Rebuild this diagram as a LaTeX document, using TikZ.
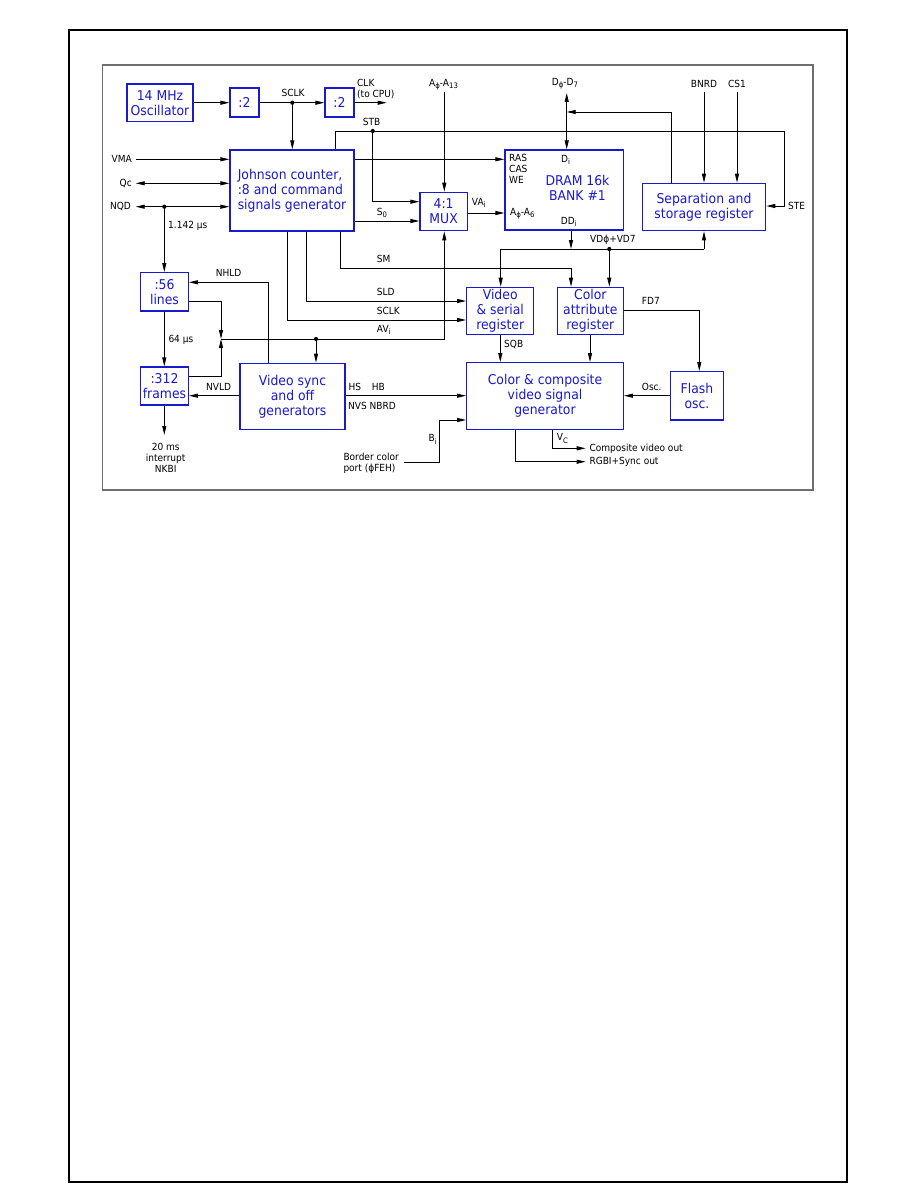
\documentclass[tikz,border=0pt]{standalone}
\usepackage{fontspec}
\setmainfont{DejaVu Sans}[FakeStretch=0.92]
\usetikzlibrary{arrows.meta}
\definecolor{boxblue}{RGB}{25,25,205}
\definecolor{framegray}{RGB}{110,110,110}
\newcommand\lowsub[1]{\raisebox{-0.45ex}{\fontsize{7.5}{7.5}\selectfont #1}}
\begin{document}
\begin{tikzpicture}[x=1pt,y=-1pt,
  blk/.style={draw=boxblue, text=boxblue, line width=1.2pt, align=center, inner sep=0pt, font=\fontsize{13.5}{15}\selectfont},
  lbl/.style={inner sep=0pt, anchor=west, font=\fontsize{9.8}{11}\selectfont},
  clbl/.style={inner sep=0pt, font=\fontsize{9.8}{11}\selectfont},
  wire/.style={line width=0.9pt},
  arr/.style={wire, -{Triangle[length=9pt,width=4pt]}},
  darr/.style={wire, {Triangle[length=9pt,width=4pt]}-{Triangle[length=9pt,width=4pt]}},
  jdot/.style={circle, fill, inner sep=0pt, minimum size=4.2pt}]
\useasboundingbox (0,0) rectangle (918,1188);
% frames
\draw[line width=2pt] (68.5,29.7) rectangle (847,1181.5);
\draw[framegray, line width=1.5pt] (102.7,65) rectangle (813,490);

% boxes
\node[blk, minimum width=66pt, minimum height=37.5pt] (osc) at (160,102.75) {14 MHz\\Oscillator};
\node[blk, minimum width=29pt, minimum height=29pt] (div1) at (244.5,102.5) {:2};
\node[blk, minimum width=29pt, minimum height=29pt] (div2) at (339.5,102.5) {:2};
\node[blk, align=left, minimum width=124pt, minimum height=81pt] (john) at (292,190.5) {Johnson counter,\\:8 and command\\signals generator};
\node[blk, minimum width=47.3pt, minimum height=38.4pt] (mux) at (443.65,211.5) {4:1\\MUX};
\node[blk, minimum width=118.3pt, minimum height=80pt] (dram) at (564.15,190) {};
\node[text=boxblue, align=center, inner sep=0pt, font=\fontsize{13.5}{15}\selectfont] (dramtxt) at (577.5,188) {DRAM 16k\\BANK \#1};
\node[blk, minimum width=123.4pt, minimum height=47.4pt] (sep) at (704,207) {Separation and\\storage register};
\node[blk, minimum width=47.6pt, minimum height=38.3pt] (lines) at (164.5,291.85) {:56\\lines};
\node[blk, minimum width=47.6pt, minimum height=38pt] (frames) at (164.5,386) {:312\\frames};
\node[blk, minimum width=105pt, minimum height=66pt] (vsync) at (292.5,396.3) {Video sync\\and off\\generators};
\node[blk, minimum width=67pt, minimum height=47pt] (vidreg) at (500.2,310.8) {Video\\\& serial\\register};
\node[blk, minimum width=66pt, minimum height=47pt] (colattr) at (590.3,310.8) {Color\\attribute\\register};
\node[blk, minimum width=156.6pt, minimum height=66.6pt] (colcomp) at (545,396) {Color \& composite\\video signal\\generator};
\node[blk, minimum width=52.6pt, minimum height=48.3pt] (flash) at (697,395.85) {Flash\\osc.};

% free ends
\coordinate (clkout) at (386.7,102.7);
\coordinate (vmain) at (135.7,159.3);
\coordinate (qcend) at (135.7,183.3);
\coordinate (nqdend) at (135.7,206.7);
\coordinate (aend) at (444.3,92);
\coordinate (dend) at (566.7,93);
\coordinate (bnrdend) at (704,92);
\coordinate (csend) at (737,92);
\coordinate (intend) at (164.3,435);
\coordinate (borderend) at (404,462);
\coordinate (cvout) at (585.7,448.3);
\coordinate (rgbout) at (585.7,461.7);
\coordinate (avjoin) at (221,339);

% junction dots
\node[jdot] (sclkdot) at (292.3,102.7) {};
\node[jdot] (nqddot) at (164.3,206.7) {};
\node[jdot] (stbdot) at (372.7,131) {};
\node[jdot] (vddot) at (609.3,249) {};
\node[jdot] (avdot) at (316,339) {};

% top row
\draw[arr] (osc.east |- 0,102.7) -- (div1.west |- 0,102.7);
\draw[arr] (div1.east |- 0,102.7) -- (div2.west |- 0,102.7);
\draw[arr] (sclkdot.center) -- (john.north -| sclkdot.center);
\draw[arr] (div2.east |- 0,102.7) -- (clkout);

% left inputs
\draw[arr] (vmain) -- (john.west |- vmain);
\draw[darr] (qcend) -- (john.west |- qcend);
\draw[darr] (nqdend) -- (john.west |- nqdend);
\draw[arr] (nqddot.center) -- (lines.north -| nqddot.center);

% STB / STE
\draw[arr] (john.north -| 335,0) -- (335,131) -- (784,131) -- (784,206) -- (sep.east |- 0,206);
\draw[arr] (stbdot.center) -- (372.7,201.7) -- (mux.west |- 0,201.7);

% Johnson -> DRAM, MUX
\draw[arr] (john.east |- 0,159.3) -- (dram.west |- 0,159.3);
\draw[arr] (john.east |- 0,221) -- (mux.west |- 0,221);
\draw[arr] (aend) -- (mux.north -| aend);
\draw[arr] (mux.east |- 0,213) -- (dram.west |- 0,213);

% data bus
\draw[darr] (dram.north -| dend) -- (dend);
\draw[arr] (sep.north -| 671,0) -- (671,112) -- (566.7,112);
\draw[arr] (bnrdend) -- (sep.north -| bnrdend);
\draw[arr] (csend) -- (sep.north -| csend);
\draw[arr] (dram.south -| 571,0) -- (571,249);
\draw[wire] (500.7,249) -- (704,249);
\draw[arr] (704,249) -- (sep.south -| 704,0);
\draw[arr] (500.7,249) -- (vidreg.north -| 500.7,0);
\draw[arr] (vddot.center) -- (colattr.north -| vddot.center);

% Johnson bottom outputs
\draw[arr] (john.south -| 340,0) -- (340,268.3) -- (571,268.3) -- (colattr.north -| 571,0);
\draw[arr] (john.south -| 306.7,0) -- (306.7,301) -- (vidreg.west |- 0,301);
\draw[arr] (john.south -| 287.7,0) -- (287.7,320) -- (vidreg.west |- 0,320);
\draw[arr] (avjoin) -- (444.3,339) -- (mux.south -| 444.3,0);
\draw[arr] (avdot.center) -- (vsync.north -| avdot.center);

% line / frame counters
\draw[arr] (lines.east |- 0,301) -- (221,301) -- (avjoin);
\draw[arr] (frames.east |- 0,376.7) -- (221,376.7) -- (avjoin);
\draw[arr] (vsync.north -| 268.3,0) -- (268.3,282.3) -- (lines.east |- 0,282.3);
\draw[arr] (lines.south -| 164.3,0) -- (frames.north -| 164.3,0);
\draw[arr] (vsync.west |- 0,395.7) -- (frames.east |- 0,395.7);
\draw[arr] (frames.south -| intend) -- (intend);

% into color composite
\draw[arr] (vsync.east |- 0,395.7) -- (colcomp.west |- 0,395.7);
\draw[arr] (borderend) -- (439,462) -- (439,420) -- (colcomp.west |- 0,420);
\draw[arr] (vidreg.south -| 500.3,0) -- (colcomp.north -| 500.3,0);
\draw[arr] (colattr.south -| 590,0) -- (colcomp.north -| 590,0);
\draw[arr] (colattr.east |- 0,310.7) -- (699.3,310.7) -- (flash.north -| 699.3,0);
\draw[arr] (flash.west |- 0,395.7) -- (colcomp.east |- 0,395.7);
\draw[arr] (colcomp.south -| 552.7,0) -- (552.7,448.3) -- (cvout);
\draw[arr] (colcomp.south -| 515,0) -- (515,461.7) -- (rgbout);

% labels
\node[clbl] (lsclk) at (293,93) {SCLK};
\node[lbl] (lclk) at (357,83) {CLK};
\node[lbl] (lcpu) at (357,94) {(to CPU)};
\node[lbl] (lstb) at (362.7,122) {STB};
\node[lbl] (la) at (429,85) {A\lowsub{ϕ}-A\lowsub{13}};
\node[lbl] (ld) at (551.7,84) {D\lowsub{ϕ}-D\lowsub{7}};
\node[clbl] (lbnrd) at (704,84) {BNRD};
\node[clbl] (lcs) at (737,84) {CS1};
\node[clbl, anchor=east] (lvma) at (132,159.3) {VMA};
\node[clbl, anchor=east] (lqc) at (132,183.3) {Qc};
\node[clbl, anchor=east] (lnqd) at (131,206.7) {NQD};
\node[lbl] (l1142) at (168,226) {1.142 µs};
\node[lbl] (lras) at (509,158) {RAS};
\node[lbl] (lcas) at (509,169.3) {CAS};
\node[lbl] (lwe) at (509,180) {WE};
\node[lbl] (ldi) at (561,160) {D\lowsub{i}};
\node[lbl] (la6) at (510,214) {A\lowsub{ϕ}-A\lowsub{6}};
\node[lbl] (lddi) at (560.7,221.7) {DD\lowsub{i}};
\node[lbl] (ls0) at (376.7,212.7) {S\lowsub{0}};
\node[lbl] (lva) at (471.7,203) {VA\lowsub{i}};
\node[lbl] (lste) at (788,206) {STE};
\node[lbl] (lvd) at (590,240) {VDϕ+VD7};
\node[lbl] (lsm) at (376.7,259.3) {SM};
\node[lbl] (lsld) at (376.7,292.3) {SLD};
\node[lbl] (lsclk2) at (376.7,311) {SCLK};
\node[lbl] (lav) at (376.7,330) {AV\lowsub{i}};
\node[lbl] (lnhld) at (215.7,273.3) {NHLD};
\node[lbl] (l64) at (168.3,340) {64 µs};
\node[lbl] (lnvld) at (206,386.7) {NVLD};
\node[lbl] (lsqb) at (504,344.3) {SQB};
\node[lbl] (lfd7) at (641.7,301) {FD7};
\node[lbl] (losc) at (641.7,386.7) {Osc.};
\node[lbl] (lhs) at (348.3,386.7) {HS};
\node[lbl] (lhb) at (371.7,386.7) {HB};
\node[lbl] (lnvs) at (348,405.7) {NVS NBRD};
\node[lbl] (lbi) at (428.3,439.3) {B\lowsub{i}};
\node[lbl] (lborder) at (343.3,457.3) {Border color};
\node[lbl] (lport) at (343.3,468.3) {port (ϕFEH)};
\node[lbl] (lvc) at (556.7,438.3) {V\lowsub{C}};
\node[lbl] (lcv) at (589.3,448.3) {Composite video out};
\node[lbl] (lrgb) at (589.3,461.7) {RGBI+Sync out};
\node[clbl] (l20) at (165.7,447.3) {20 ms};
\node[clbl] (lint) at (165.7,458.3) {interrupt};
\node[clbl] (lnkbi) at (165.7,469.3) {NKBI};
\end{tikzpicture}
\end{document}
